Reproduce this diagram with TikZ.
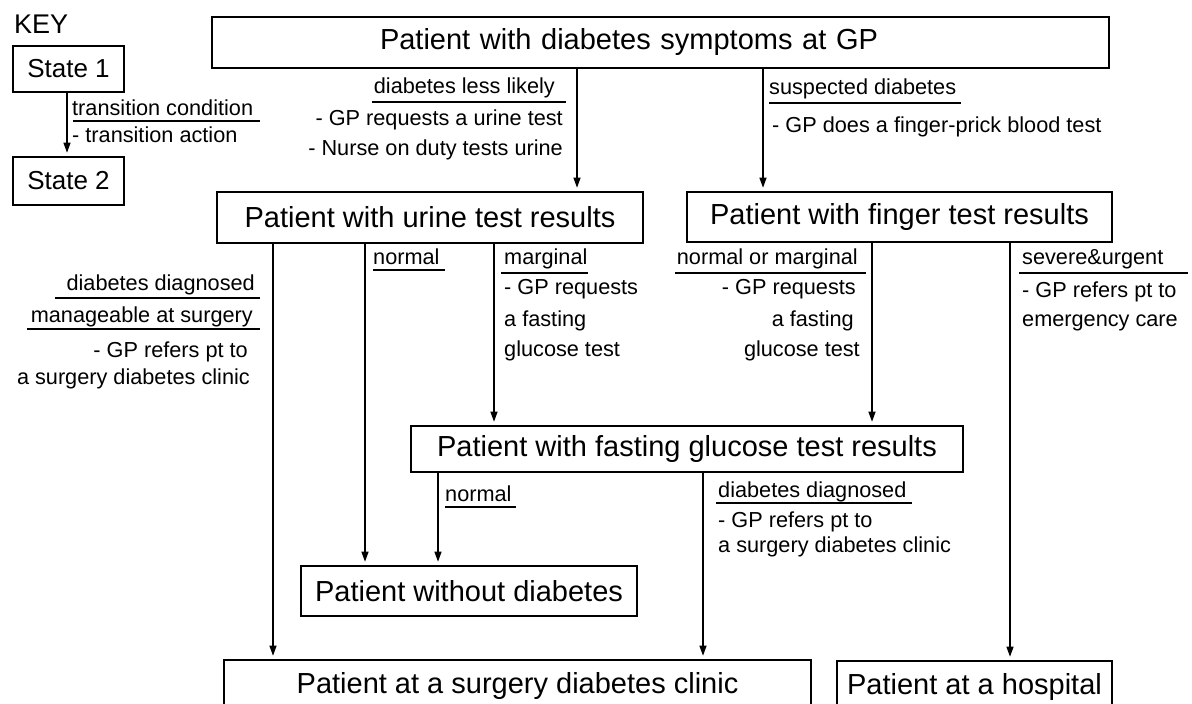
\documentclass[tikz,border=0pt]{standalone}
\usepackage{fontspec}
\setmainfont{Liberation Sans}
\usetikzlibrary{arrows.meta}
\newcommand{\boxfont}{\fontsize{29}{34}\selectfont}
\newcommand{\keyfont}{\fontsize{26}{30}\selectfont}
\newcommand{\lblfont}{\fontsize{21.7}{26}\selectfont}
\begin{document}
\begin{tikzpicture}[x=1pt,y=-1pt,
  state/.style={draw, line width=2.6pt, inner sep=0pt, font=\boxfont},
  keystate/.style={state, font=\keyfont, minimum width=111},
  trans/.style={line width=1.3pt, -{Triangle[length=10pt,width=7pt]}, shorten >=3pt},
  cond/.style={font=\lblfont, inner sep=0pt},
  uline/.style={line width=1.1pt}]
\useasboundingbox (0,0) rectangle (1192,704);
\clip (0,0) rectangle (1192,704);

% ---------- key ----------
\node[font=\fontsize{27}{32}\selectfont, anchor=base west, inner sep=0pt] (key) at (14,33) {KEY};
\node[keystate, minimum height=46] (s1) at (68.5,69) {State 1};
\node[keystate, minimum height=48] (s2) at (68.5,181) {State 2};
\draw[trans] (67,0 |- s1.south) -- (67,0 |- s2.north);
\node[cond, anchor=base west] (kc) at (72,115) {transition condition};
\draw[uline] (73,121) -- (260,121);
\node[cond, anchor=base west] (ka) at (72,142) {- transition action};

% ---------- states ----------
\node[state, minimum width=897, minimum height=51, text width=897pt, align=left] (gp) at (660.5,42.5)
  {\hspace*{168pt}Patient with diabetes symptoms at GP};
\node[state, minimum width=426, minimum height=51] (urine) at (430,217.5) {Patient with urine test results};
\node[state, minimum width=425, minimum height=50] (finger) at (899.5,217) {Patient with finger test results};
\node[state, minimum width=552, minimum height=46] (fasting) at (687,449) {Patient with fasting glucose test results};
\node[state, minimum width=336, minimum height=50] (nodiab) at (469,591) {Patient without diabetes};
\node[state, minimum width=587, minimum height=52] (clinic) at (517.5,686) {Patient at a surgery diabetes clinic};
\node[state, minimum width=275, minimum height=52] (hosp) at (974.5,687) {Patient at a hospital};

% ---------- transitions ----------
\draw[trans] (577,0 |- gp.south) -- (577,0 |- urine.north);
\draw[trans] (763,0 |- gp.south) -- (763,0 |- finger.north);
\draw[trans] (273,0 |- urine.south) -- (273,0 |- clinic.north);
\draw[trans] (365,0 |- urine.south) -- (365,0 |- nodiab.north);
\draw[trans] (494,0 |- urine.south) -- (494,0 |- fasting.north);
\draw[trans] (872,0 |- finger.south) -- (872,0 |- fasting.north);
\draw[trans] (1010,0 |- finger.south) -- (1010,0 |- hosp.north);
\draw[trans] (438,0 |- fasting.south) -- (438,0 |- nodiab.north);
\draw[trans] (703,0 |- fasting.south) -- (703,0 |- clinic.north);

% ---------- transition labels ----------
% GP -> urine
\node[cond, anchor=base east] (c1) at (555,93) {diabetes less likely};
\draw[uline] (372,102) -- (566,102);
\node[cond, anchor=base east] (a1a) at (563,125) {- GP requests a urine test};
\node[cond, anchor=base east] (a1b) at (563,155) {- Nurse on duty tests urine};

% GP -> finger
\node[cond, anchor=base west] (c2) at (769,94) {suspected diabetes};
\draw[uline] (769,103) -- (961,103);
\node[cond, anchor=base west] (a2) at (772,132) {- GP does a finger-prick blood test};

% urine -> clinic
\node[cond, anchor=base east] (c3a) at (255,290) {diabetes diagnosed};
\draw[uline] (55,298) -- (260,298);
\node[cond, anchor=base east] (c3b) at (253,322) {manageable at surgery};
\draw[uline] (27,329) -- (260,329);
\node[cond, anchor=base east] (a3a) at (248,357) {- GP refers pt to};
\node[cond, anchor=base east] (a3b) at (250,384) {a surgery diabetes clinic};

% urine -> without diabetes
\node[cond, anchor=base west] (c4) at (373,264) {normal};
\draw[uline] (373,270) -- (445,270);

% urine -> fasting
\node[cond, anchor=base west] (c5) at (504,264) {marginal};
\draw[uline] (501,273) -- (588,273);
\node[cond, anchor=base west] (a5a) at (504,294) {- GP requests};
\node[cond, anchor=base west] (a5b) at (504,326) {a fasting};
\node[cond, anchor=base west] (a5c) at (504,356) {glucose test};

% finger -> fasting
\node[cond, anchor=base east] (c6) at (858,264) {normal or marginal};
\draw[uline] (675,273) -- (866,273);
\node[cond, anchor=base east] (a6a) at (856,294) {- GP requests};
\node[cond, anchor=base east] (a6b) at (854,326) {a fasting};
\node[cond, anchor=base east] (a6c) at (860,356) {glucose test};

% finger -> hospital
\node[cond, anchor=base west] (c7) at (1022,264) {severe\&urgent};
\draw[uline] (1019,273) -- (1188,273);
\node[cond, anchor=base west] (a7a) at (1022,297) {- GP refers pt to};
\node[cond, anchor=base west] (a7b) at (1022,326) {emergency care};

% fasting -> without diabetes
\node[cond, anchor=base west] (c8) at (445,501) {normal};
\draw[uline] (445,507) -- (516,507);

% fasting -> clinic
\node[cond, anchor=base west] (c9) at (718,497) {diabetes diagnosed};
\draw[uline] (716,503) -- (912,503);
\node[cond, anchor=base west] (a9a) at (718,527) {- GP refers pt to};
\node[cond, anchor=base west] (a9b) at (718,552) {a surgery diabetes clinic};
\end{tikzpicture}
\end{document}
